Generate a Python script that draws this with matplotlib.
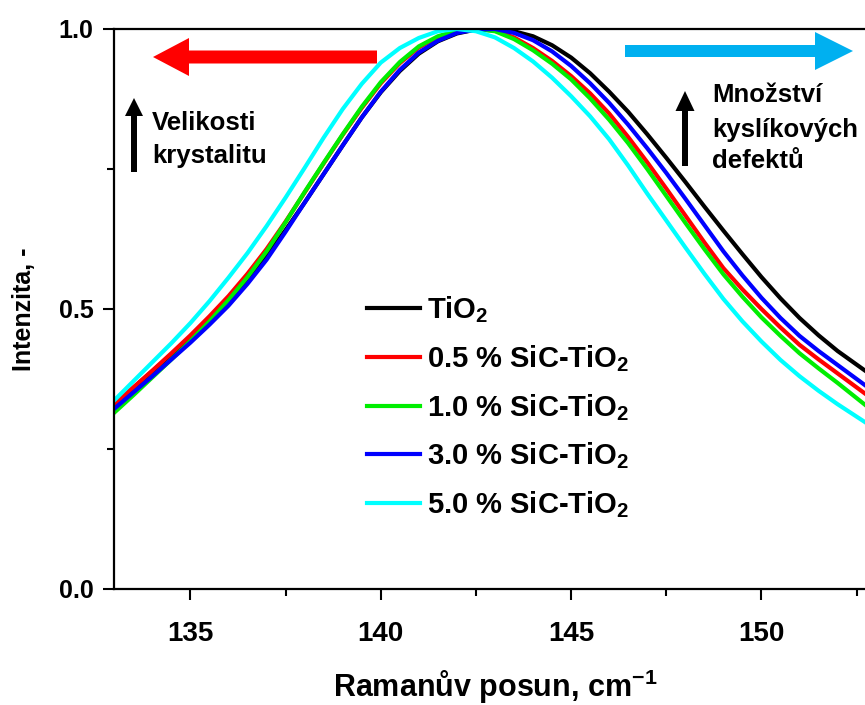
import matplotlib
matplotlib.use('Agg')
import matplotlib.pyplot as plt
from matplotlib.patches import Polygon
from matplotlib.transforms import IdentityTransform

# ---------------- data ----------------
shift = [133.0, 133.5, 134.0, 134.5, 135.0, 135.5, 136.0, 136.5, 137.0, 137.5,
         138.0, 138.5, 139.0, 139.5, 140.0, 140.5, 141.0, 141.5, 142.0, 142.5,
         143.0, 143.5, 144.0, 144.5, 145.0, 145.5, 146.0, 146.5, 147.0, 147.5,
         148.0, 148.5, 149.0, 149.5, 150.0, 150.5, 151.0, 151.5, 152.0, 152.72]

tio2 = [0.329, 0.359, 0.389, 0.419, 0.449, 0.481, 0.515, 0.553, 0.594, 0.641,
        0.690, 0.741, 0.792, 0.842, 0.887, 0.925, 0.956, 0.978, 0.992, 0.999,
        1.000, 0.996, 0.987, 0.971, 0.949, 0.921, 0.888, 0.852, 0.812, 0.770,
        0.727, 0.683, 0.640, 0.598, 0.557, 0.519, 0.484, 0.453, 0.425, 0.390]
sic05 = [0.330, 0.360, 0.390, 0.421, 0.453, 0.487, 0.523, 0.563, 0.607, 0.656,
         0.708, 0.760, 0.811, 0.859, 0.903, 0.939, 0.967, 0.985, 0.996, 1.000,
         0.997, 0.985, 0.966, 0.943, 0.916, 0.885, 0.849, 0.807, 0.762, 0.715,
         0.667, 0.619, 0.573, 0.535, 0.500, 0.467, 0.436, 0.410, 0.385, 0.349]
sic10 = [0.315, 0.346, 0.378, 0.410, 0.443, 0.478, 0.516, 0.557, 0.603, 0.655,
         0.709, 0.761, 0.812, 0.861, 0.905, 0.941, 0.969, 0.987, 0.997, 1.000,
         0.996, 0.982, 0.962, 0.938, 0.910, 0.876, 0.838, 0.796, 0.750, 0.702,
         0.654, 0.607, 0.562, 0.522, 0.485, 0.452, 0.421, 0.394, 0.368, 0.329]
sic30 = [0.322, 0.351, 0.380, 0.410, 0.440, 0.472, 0.506, 0.545, 0.588, 0.638,
         0.690, 0.741, 0.792, 0.842, 0.888, 0.927, 0.958, 0.979, 0.993, 0.999,
         1.000, 0.993, 0.980, 0.960, 0.934, 0.903, 0.868, 0.829, 0.787, 0.743,
         0.697, 0.650, 0.603, 0.560, 0.520, 0.484, 0.452, 0.425, 0.400, 0.364]
sic50 = [0.337, 0.371, 0.405, 0.439, 0.475, 0.514, 0.556, 0.600, 0.648, 0.699,
         0.752, 0.806, 0.857, 0.902, 0.940, 0.966, 0.984, 0.996, 1.000, 0.996,
         0.985, 0.966, 0.942, 0.913, 0.880, 0.844, 0.803, 0.756, 0.706, 0.658,
         0.610, 0.563, 0.518, 0.478, 0.442, 0.409, 0.380, 0.354, 0.330, 0.298]

series = [tio2, sic05, sic10, sic30, sic50]
labels = ['TiO$_2$', '0.5 % SiC-TiO$_2$', '1.0 % SiC-TiO$_2$',
          '3.0 % SiC-TiO$_2$', '5.0 % SiC-TiO$_2$']
colors = ['#000000', '#ff0000', '#00ee00', '#0000ff', '#00ffff']

xticks = [135, 140, 145, 150]
xminor = [137.5, 142.5, 147.5, 152.5]
yticks = [0.0, 0.5, 1.0]
yminor = [0.25, 0.75]
yticklabels = ['0.0', '0.5', '1.0']

# ---------------- fonts ----------------
plt.rcParams['font.family'] = ['Liberation Sans', 'DejaVu Sans']
plt.rcParams['font.weight'] = 'bold'
plt.rcParams['mathtext.fontset'] = 'custom'
plt.rcParams['mathtext.rm'] = 'Liberation Sans:bold'
plt.rcParams['mathtext.bf'] = 'Liberation Sans:bold'
plt.rcParams['mathtext.it'] = 'Liberation Sans:bold'
plt.rcParams['mathtext.sf'] = 'Liberation Sans:bold'
plt.rcParams['mathtext.default'] = 'rm'

W, H = 865, 705
fig = plt.figure(figsize=(W / 100, H / 100), dpi=100)
fig.patch.set_facecolor('white')

ax_l, ax_r, ax_t, ax_b = 114.3, 865.0, 29.0, 589.0
ax = fig.add_axes([ax_l / W, (H - ax_b) / H, (ax_r - ax_l) / W, (ax_b - ax_t) / H])

for ys, lab, c in zip(series, labels, colors):
    ax.plot(shift, ys, color=c, lw=3.0, label=lab, solid_joinstyle='round')

ax.set_xlim(133, 152.72)
ax.set_ylim(0, 1.0)
ax.set_xticks(xticks)
ax.set_xticks(xminor, minor=True)
ax.set_yticks(yticks)
ax.set_yticklabels(yticklabels)
ax.set_yticks(yminor, minor=True)

for s in ['left', 'bottom', 'top']:
    ax.spines[s].set_linewidth(1.6)
ax.spines['right'].set_visible(False)

ax.tick_params(which='major', direction='out', length=8, width=1.5)
ax.tick_params(which='minor', direction='out', length=5, width=1.5)
ax.tick_params(axis='y', which='major', pad=7)
ax.tick_params(axis='x', which='major', pad=15)
ax.tick_params(top=False, right=False, which='both')
for t in ax.get_yticklabels():
    t.set_fontsize(18)
    t.set_fontweight('bold')
for t in ax.get_xticklabels():
    t.set_fontsize(20)
    t.set_fontweight('bold')

ax.set_xlabel('Ramanův posun, cm$^{-1}$', fontsize=22, fontweight='bold')
ax.xaxis.set_label_coords(0.507, -0.140)
ax.set_ylabel('Intenzita, -', fontsize=18, fontweight='bold')
ax.yaxis.set_label_coords(-0.104, 0.5)

leg = ax.legend(loc='upper left', bbox_to_anchor=(367 / W, (H - 294) / H),
                bbox_transform=fig.transFigure, frameon=False, borderpad=0,
                borderaxespad=0, handlelength=1.8, handletextpad=0.25,
                labelspacing=0.62, prop={'size': 21, 'weight': 'bold'})
for line in leg.get_lines():
    line.set_linewidth(3.0)

# ---------------- arrows & annotations (pixel coordinates) ----------------
def P(pts):
    return [(x, H - y) for x, y in pts]

idt = IdentityTransform()
red_arrow = [(153, 57), (189, 38), (189, 50.5), (377, 50.5), (377, 63.5), (189, 63.5), (189, 76)]
blue_arrow = [(625, 45), (815, 45), (815, 32), (853, 51), (815, 70), (815, 57), (625, 57)]
up_left = [(131, 172), (131, 116), (125, 116), (134, 98), (143, 116), (137, 116), (137, 172)]
up_right = [(682, 166), (682, 111), (675.5, 111), (685, 91), (694.5, 111), (688, 111), (688, 166)]
for pts, col in [(red_arrow, '#ff0000'), (blue_arrow, '#00b0f0'),
                 (up_left, '#000000'), (up_right, '#000000')]:
    fig.patches.append(Polygon(P(pts), closed=True, facecolor=col, edgecolor='none',
                               transform=idt, figure=fig, zorder=5))

def ftxt(x, y, s, size=18.5):
    fig.text(x / W, 1 - y / H, s, fontsize=size, fontweight='bold', ha='left', va='baseline')

ftxt(152, 130, 'Velikosti')
ftxt(152, 163.3, 'krystalitu')
ftxt(712, 101.7, 'Množství')
ftxt(712, 136.5, 'kyslíkových')
ftxt(712, 168.3, 'defektů')

fig.savefig('out.png', dpi=100, facecolor='white')
